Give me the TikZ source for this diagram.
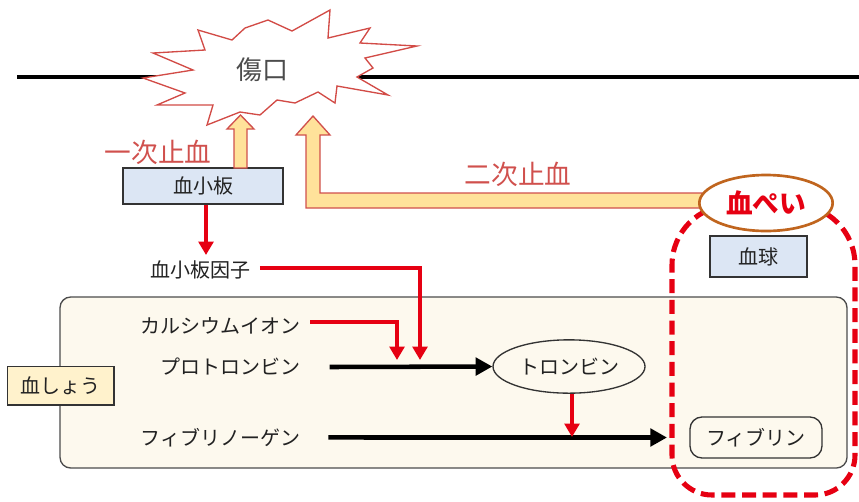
\documentclass[tikz,border=0pt]{standalone}
\usepackage{fontspec}
\newfontfamily\jp{Noto Sans CJK JP}
\usetikzlibrary{arrows.meta,shapes.geometric,calc}
\definecolor{starred}{HTML}{D24B46}
\definecolor{softred}{HTML}{D0504D}
\definecolor{arrred}{HTML}{E60012}
\definecolor{yfill}{HTML}{FFE29A}
\definecolor{bluefill}{HTML}{DCE6F4}
\definecolor{plasma}{HTML}{FDF9EE}
\definecolor{plasmab}{HTML}{FFF2CC}
\definecolor{clotbrown}{HTML}{C0651E}
\definecolor{txt}{HTML}{222222}
\definecolor{boxline}{HTML}{333333}
\tikzset{
  lbl/.style={text=txt, inner sep=0pt},
  bluebox/.style={draw=boxline, fill=bluefill, line width=1.1pt, inner sep=0pt, text=txt},
  redarr/.style={draw=arrred, line width=3pt, -{Triangle[length=10pt,width=11pt]}},
  blkarr/.style={draw=black, line width=3.4pt, -{Triangle[length=12.5pt,width=13pt]}},
  yarrow/.style={draw=softred, fill=yfill, line width=1pt, line join=miter},
  clotline/.style={draw=arrred, line width=3.8pt, dash pattern=on 10.5pt off 5pt},
  hemo/.style={text=softred, font={\jp\fontsize{20}{24}\selectfont}, inner sep=0pt}
}
\begin{document}
\begin{tikzpicture}[x=0.75pt,y=-0.75pt, font={\jp\fontsize{15}{18}\selectfont}]
\useasboundingbox (0,0) rectangle (859,501);
% skin line
\coordinate (skinL) at (17,77);
\coordinate (skinLe) at (200,77);
\coordinate (skinRs) at (320,77);
\coordinate (skinR) at (859,77);
\draw[line width=3.4pt] (skinL) -- (skinLe);
\draw[line width=3.4pt] (skinRs) -- (skinR);
% wound star
\draw[draw=starred, fill=white, line width=1pt, line join=miter]
 (143,78) -- (193,70) -- (153,53) -- (205,50) -- (198,30) -- (232,40) -- (245,28)
 -- (268,20) -- (292,31) -- (330,10) -- (328,38) -- (370,28) -- (360,43) -- (417,46)
 -- (365,58) -- (373,68) -- (357,77) -- (388,95) -- (337,86) -- (335,103) -- (318,92)
 -- (295,103) -- (277,100) -- (260,115) -- (240,112) -- (207,125) -- (213,105)
 -- (157,105) -- (185,93) -- cycle;
\node[text=black!70, inner sep=0pt, font={\jp\fontsize{19.5}{22}\selectfont}] (wound) at (262,70) {傷口};

% plasma region
\node[draw=black!70, fill=plasma, line width=1pt, rounded corners=8pt,
      minimum width=590.25pt, minimum height=128.25pt, inner sep=0pt] (plasmabox) at (453.5,382.5) {};
\node[draw=boxline, fill=plasmab, line width=1pt, minimum width=80pt, minimum height=29pt,
      inner sep=0pt, text=txt] (plasmalbl) at (60.5,385.5) {血しょう};

% clot dashed region
\draw[clotline] (763,205) [rounded corners=45pt] -- (855,205) -- (855,350)
  [rounded corners=30pt] -- (855,495) -- (672,495) -- (672,350)
  [rounded corners=45pt] -- (672,205) -- cycle;

% platelet box
\node[bluebox, minimum width=120pt, minimum height=27pt] (ppl) at (203,186) {血小板};
\node[hemo] (prim) at (158,152) {一次止血};
\node[hemo] (sec) at (518,174) {二次止血};

% small yellow arrow (primary)
\draw[yarrow] (234,168) -- (234,129) -- (227,129) -- (240.5,115) -- (254,129) -- (247,129) -- (247,168) -- cycle;
% big yellow arrow (secondary)
\draw[yarrow] (702,193) -- (320,193) -- (320,135) -- (330,135) -- (313,116) -- (296,135)
  -- (306,135) -- (306,208) -- (702,208) -- cycle;

% clot ellipse
\node[ellipse, draw=clotbrown, fill=white, line width=2pt, minimum width=100pt, minimum height=42pt,
      inner sep=0pt, text=arrred, font={\jp\bfseries\fontsize{20}{24}\selectfont}] (clot) at (766,203) {血ぺい};
\node[bluebox, minimum width=72.75pt, minimum height=30.75pt] (cells) at (758.5,256.5) {血球};

% labels
\node[lbl, inner sep=5pt] (pf) at (200,270) {血小板因子};
\node[lbl, anchor=east, inner sep=5pt] (ca) at (307,326) {カルシウムイオン};
\node[lbl, anchor=east, inner sep=5pt] (pro) at (307,367) {プロトロンビン};
\node[lbl, anchor=east, inner sep=5pt] (fibg) at (307,438) {フィブリノーゲン};

\node[ellipse, draw=boxline, fill=plasma, line width=1pt, minimum width=114pt, minimum height=40pt,
      inner sep=0pt, text=txt] (thr) at (569,366.5) {トロンビン};
\node[draw=boxline, fill=plasma, line width=1pt, rounded corners=9pt, minimum width=99pt,
      minimum height=30.75pt, inner sep=0pt, text=txt] (fib) at (756,437.5) {フィブリン};

% connectors
\coordinate (pfx) at (206,0);
\coordinate (pftop) at (206,255);
\draw[redarr] (ppl.south -| pfx) -- (pftop);
\coordinate (pfend) at (420,360);
\coordinate (caend) at (397,360);
\draw[redarr] ([shift={(3,-2)}]pf.east) -| (pfend);
\draw[redarr] ([shift={(3,-4)}]ca.east) -| (caend);
\draw[blkarr] ([xshift=17pt]pro.east) -- (thr.west);
\coordinate (fibend) at (667,437.5);
\draw[blkarr] ([xshift=16pt,yshift=0.4pt]fibg.east) -- (fibend);
\coordinate (thx) at (572,0);
\coordinate (thend) at (572,437);
\draw[redarr] (thr.south -| thx) -- (thend);
\end{tikzpicture}
\end{document}
